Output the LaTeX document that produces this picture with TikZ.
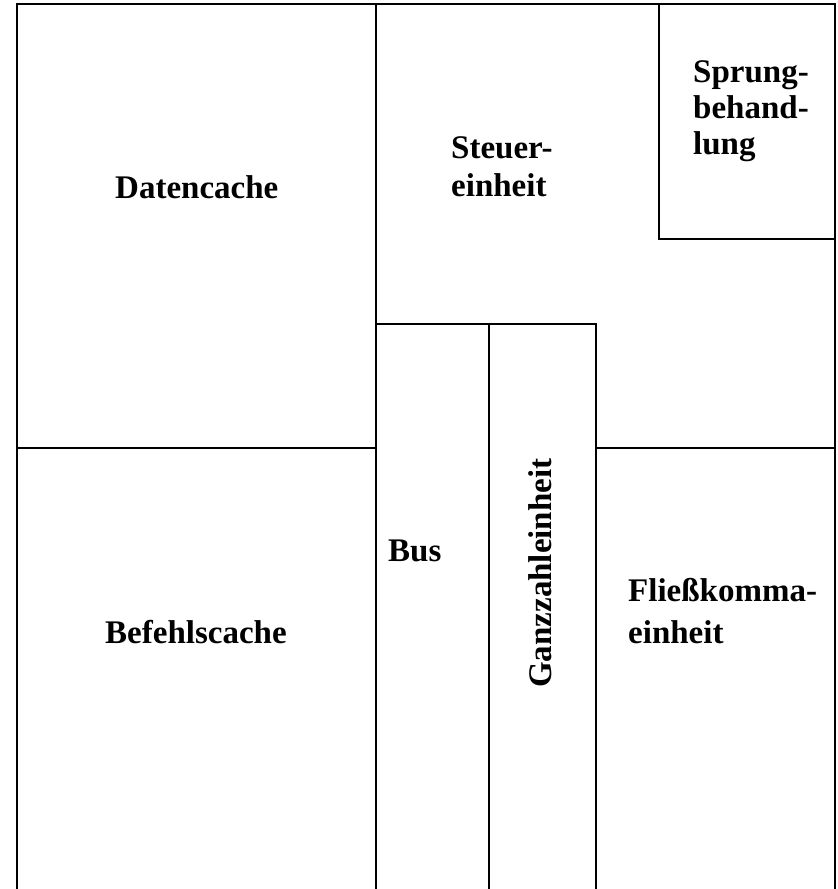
\documentclass[tikz,border=0pt]{standalone}
\usepackage{fontspec}
\setmainfont{Liberation Serif}
\begin{document}
\begin{tikzpicture}[x=1pt,y=-1pt,
  wall/.style={line width=2pt,line cap=rect},
  lbl/.style={anchor=base west,inner sep=0pt,
    font=\fontsize{33}{36}\selectfont\bfseries}]
\useasboundingbox (0,0) rectangle (838,889);
% outer frame, open at the bottom
\draw[wall] (17,889) -- (17,4) -- (835,4) -- (835,889);
% column and block borders
\draw[wall] (376,4) -- (376,889);
\draw[wall] (17,448) -- (376,448);
\draw[wall] (376,324) -- (596,324);
\draw[wall] (489,324) -- (489,889);
\draw[wall] (596,324) -- (596,889);
\draw[wall] (596,448) -- (835,448);
\draw[wall] (659,4) -- (659,239) -- (835,239);
% block labels
\node[lbl] (daten) at (115,198) {Datencache};
\node[lbl] (steuer1) at (451,158) {Steuer-};
\node[lbl] (steuer2) at (451,196) {einheit};
\node[lbl] (sprung1) at (693,82) {Sprung-};
\node[lbl] (sprung2) at (693,118) {behand-};
\node[lbl] (sprung3) at (693,154) {lung};
\node[lbl] (bus) at (388,561) {Bus};
\node[lbl,rotate=90] (ganz) at (551,688) {Ganzzahleinheit};
\node[lbl] (fliess1) at (628,601) {Fließkomma-};
\node[lbl] (fliess2) at (628,643) {einheit};
\node[lbl] (befehl) at (105,643) {Befehlscache};
\end{tikzpicture}
\end{document}
